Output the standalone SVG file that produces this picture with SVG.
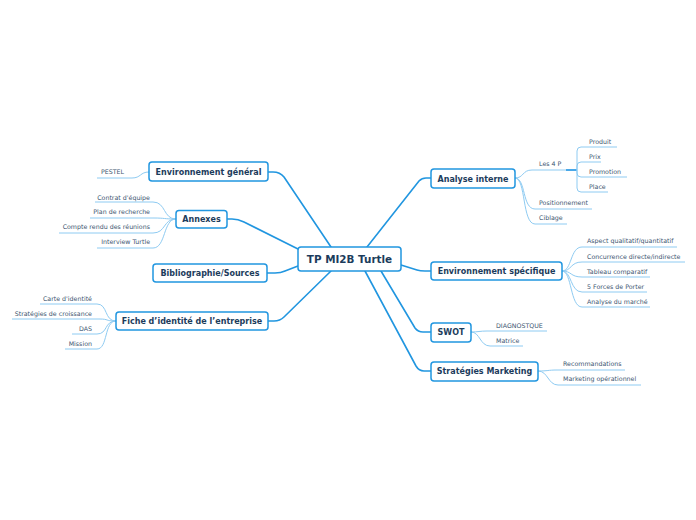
<svg xmlns="http://www.w3.org/2000/svg" width="696" height="520" viewBox="0 0 696 520">
<style>
.main{fill:none;stroke:#2196e0;stroke-width:1.6;stroke-linecap:round;stroke-linejoin:round}
.sub{fill:none;stroke:#8ecbf2;stroke-width:1}
.box{fill:#ffffff;stroke:#2196e0;stroke-width:1.5}
.nt{font-family:"DejaVu Sans",Verdana,sans-serif;font-weight:bold;font-size:8px;fill:#1c3c5c;text-anchor:middle}
.ct{font-family:"DejaVu Sans",Verdana,sans-serif;font-weight:bold;font-size:10.4px;fill:#1c3c5c;text-anchor:middle}
.st{font-family:"DejaVu Sans",Verdana,sans-serif;font-size:6.3px;fill:#3c5570}
.e{text-anchor:end}
</style>
<rect width="696" height="520" fill="#ffffff"/>
<g id="connectors">
<path class="main" d="M331,247 L284,177 Q280,172 273,172 L268,172"/>
<path class="main" d="M298,249 L244,222 Q238,219 232,219 L227,219"/>
<path class="main" d="M298,266 L285,271 Q281,273 275,273 L267,273"/>
<path class="main" d="M331,271 L284,317 Q280,321 274,321 L268,321"/>
<path class="main" d="M367,247 L419,181 Q422,178 426,178 L431,178"/>
<path class="main" d="M401,265 L417,270 Q420,271 425,271 L431,271"/>
<path class="main" d="M381,271 L415,328 Q418,332 423,332 L431,332"/>
<path class="main" d="M365,271 L416,366 Q419,371 424,371 L431,371"/>
<path class="sub" d="M149,172 C140,172 141,178 132,178 L97,178"/>
<path class="sub" d="M176,219 C163,219 166,202 153,202 L95,202"/>
<path class="sub" d="M176,219 C163,219 166,218 153,218 L90,218"/>
<path class="sub" d="M176,219 C163,219 166,233 153,233 L59,233"/>
<path class="sub" d="M176,219 C163,219 166,248 153,248 L97,248"/>
<path class="sub" d="M116,321 C104,321 108,304 97,304 L40,304"/>
<path class="sub" d="M116,321 C104,321 110,319 99,319 L12,319"/>
<path class="sub" d="M116,321 C104,321 108,334 97,334 L72,334"/>
<path class="sub" d="M116,321 C104,321 108,349 97,349 L65,349"/>
<path class="sub" d="M515,178 C524,178 522,170 532,170 L566,170"/>
<path d="M566,170 L577,170" fill="none" stroke="#4aa8e8" stroke-width="2"/>
<path class="sub" d="M515,178 C526,178 522,209 535,209 L592,209"/>
<path class="sub" d="M515,178 C526,178 522,224 535,224 L567,224"/>
<path class="sub" d="M577,170 L577,151 Q577,147 581,147 L617,147"/>
<path class="sub" d="M577,170 L577,166 Q577,162 581,162 L601,162"/>
<path class="sub" d="M577,170 L577,173 Q577,177 581,177 L627,177"/>
<path class="sub" d="M577,170 L577,188 Q577,192 581,192 L608,192"/>
<path class="sub" d="M562,271 C572,271 570,247 582,247 L677,247"/>
<path class="sub" d="M562,271 C572,271 570,262 582,262 L685,262"/>
<path class="sub" d="M562,271 C572,271 570,277 582,277 L650,277"/>
<path class="sub" d="M562,271 C572,271 570,292 582,292 L647,292"/>
<path class="sub" d="M562,271 C572,271 570,307 582,307 L650,307"/>
<path class="sub" d="M471,332 C478,332 480,331 487,331 L547,331"/>
<path class="sub" d="M471,332 C480,332 480,346 490,346 L523,346"/>
<path class="sub" d="M538,371 C548,371 548,370 557,370 L625,370"/>
<path class="sub" d="M538,371 C548,371 548,385 558,385 L641,385"/>
</g>
<g id="center">
<rect class="box" x="298" y="247" width="103" height="24" rx="3" stroke-width="2"/>
<text class="ct" x="349.5" y="262.8">TP MI2B Turtle</text>
</g>
<g id="env-general">
<rect class="box" x="149" y="162" width="119" height="19" rx="3"/>
<text class="nt" x="208.5" y="174.6">Environnement général</text>
</g>
<g id="annexes">
<rect class="box" x="176" y="210.5" width="51" height="17.5" rx="3"/>
<text class="nt" x="201.5" y="222">Annexes</text>
</g>
<g id="biblio">
<rect class="box" x="153" y="264" width="114" height="18" rx="3"/>
<text class="nt" x="210" y="275.9">Bibliographie/Sources</text>
</g>
<g id="fiche">
<rect class="box" x="116" y="312" width="152" height="18" rx="3"/>
<text class="nt" x="192" y="323.9">Fiche d’identité de l’entreprise</text>
</g>
<g id="analyse-interne">
<rect class="box" x="431" y="169" width="84" height="19" rx="3"/>
<text class="nt" x="473" y="181.6">Analyse interne</text>
</g>
<g id="env-specifique">
<rect class="box" x="431" y="262" width="131" height="18" rx="3"/>
<text class="nt" x="496.5" y="273.9">Environnement spécifique</text>
</g>
<g id="swot">
<rect class="box" x="431" y="323" width="40" height="19" rx="3"/>
<text class="nt" x="451" y="335.4">SWOT</text>
</g>
<g id="strategies">
<rect class="box" x="431" y="362" width="107" height="19" rx="3"/>
<text class="nt" x="484.5" y="374.4">Stratégies Marketing</text>
</g>
<g id="subtopics">
<text class="st e" x="124" y="174">PESTEL</text>
<text class="st e" x="150" y="199.6">Contrat d'équipe</text>
<text class="st e" x="150" y="214.4">Plan de recherche</text>
<text class="st e" x="150" y="229.4">Compte rendu des réunions</text>
<text class="st e" x="150" y="244.4">Interview Turtle</text>
<text class="st e" x="92" y="300.6">Carte d'identité</text>
<text class="st e" x="92" y="316">Stratégies de croissance</text>
<text class="st e" x="92" y="331">DAS</text>
<text class="st e" x="92" y="346">Mission</text>
<text class="st" x="539" y="165.6">Les 4 P</text>
<text class="st" x="589" y="144">Produit</text>
<text class="st" x="589" y="159">Prix</text>
<text class="st" x="589" y="174">Promotion</text>
<text class="st" x="589" y="189">Place</text>
<text class="st" x="539" y="204.6">Positionnement</text>
<text class="st" x="539" y="219.6">Ciblage</text>
<text class="st" x="587" y="243.3">Aspect qualitatif/quantitatif</text>
<text class="st" x="587" y="259">Concurrence directe/indirecte</text>
<text class="st" x="587" y="274">Tableau comparatif</text>
<text class="st" x="587" y="289">5 Forces de Porter</text>
<text class="st" x="587" y="304">Analyse du marché</text>
<text class="st" x="496" y="327.6">DIAGNOSTQUE</text>
<text class="st" x="496" y="342.6">Matrice</text>
<text class="st" x="563" y="365.6">Recommandations</text>
<text class="st" x="563" y="381">Marketing opérationnel</text>
</g>
</svg>
